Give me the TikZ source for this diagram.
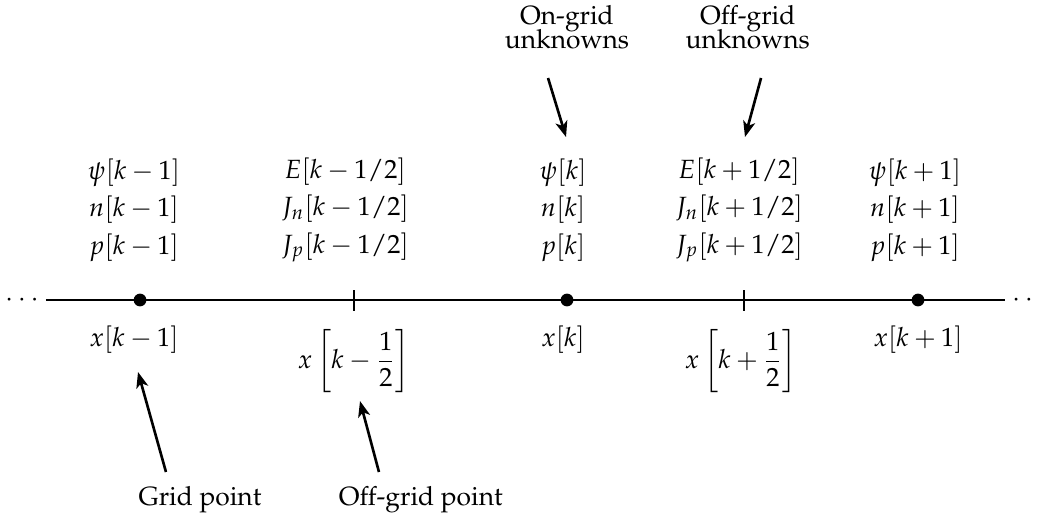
\documentclass[tikz,border=0pt]{standalone}
\usepackage[T1]{fontenc}
\usepackage{mathpazo}
\usetikzlibrary{positioning, arrows.meta}

\begin{document}
\begin{tikzpicture}[>={Stealth[length=6pt, width=4.6pt, inset=1.6pt]}, line width=1pt,
		gpt/.style={circle, fill, inner sep=0pt, minimum size=0.17cm},
		vals/.style={align=center},
		note/.style={align=center}]
			\useasboundingbox (0,0) rectangle (13.84,7);
			% axis with grid and off-grid points
			\coordinate (ax0) at (0.613,3);
			\coordinate (ax1) at (13.4,3);
			\draw (ax0) -- (ax1);
			\node (dotsl) at (0.293,3) {${\cdot}\hspace{1.7pt}{\cdot}\hspace{1.7pt}{\cdot}$};
			\node (dotsr) at (13.72,3) {${\cdot}\hspace{1.7pt}{\cdot}\hspace{1.7pt}{\cdot}$};
			\foreach \n/\x in {km/1.867, k/7.56, kp/12.24} {
					\node[gpt] (g\n) at (\x,3) {};
				}
			\foreach \n/\x in {km/4.72, kp/9.92} {
					\draw (\x,2.86) coordinate (h\n) -- (\x,3.14);
				}
			% unknowns stored at each point
			\node[vals] (vkm) at (1.787,4.2) {$\psi[k-1]$\\[2.2pt]$n[k-1]$\\[2.2pt]$p[k-1]$};
			\node[vals] (vhm) at (4.6,4.2) {$E[k-1/2]$\\[2.2pt]$J_n[k-1/2]$\\[2.2pt]$J_p[k-1/2]$};
			\node[vals] (vk) at (7.507,4.2) {$\psi[k]$\\[2.2pt]$n[k]$\\[2.2pt]$p[k]$};
			\node[vals] (vhp) at (9.853,4.2) {$E[k+1/2]$\\[2.2pt]$J_n[k+1/2]$\\[2.2pt]$J_p[k+1/2]$};
			\node[vals] (vkp) at (12.2,4.2) {$\psi[k+1]$\\[2.2pt]$n[k+1]$\\[2.2pt]$p[k+1]$};
			% positions
			\node (xkm) at (1.787,2.467) {$x[k-1]$};
			\node (xhm) at (4.72,2.18) {$x\left[k-{\displaystyle\frac{1}{2}}\right]$};
			\node (xk) at (7.507,2.467) {$x[k]$};
			\node (xhp) at (9.88,2.18) {$x\left[k+{\displaystyle\frac{1}{2}}\right]$};
			\node (xkp) at (12.24,2.467) {$x[k+1]$};
			% annotations
			\node[note] (ongrid) at (7.56,6.64) {On-grid\\[-3pt]unknowns};
			\node[note] (offgrid) at (9.97,6.64) {Off-grid\\[-3pt]unknowns};
			\node (gridpt) at (2.667,0.333) {Grid point};
			\node (offpt) at (5.61,0.333) {Off-grid point};
			\coordinate (a1) at (7.307,5.96);
			\coordinate (b1) at (7.547,5.173);
			\coordinate (a2) at (10.147,5.96);
			\coordinate (b2) at (9.933,5.173);
			\coordinate (a3) at (2.213,0.707);
			\coordinate (b3) at (1.84,2.04);
			\coordinate (a4) at (5.053,0.707);
			\coordinate (b4) at (4.8,1.653);
			\draw[->] (a1) -- (b1);
			\draw[->] (a2) -- (b2);
			\draw[->] (a3) -- (b3);
			\draw[->] (a4) -- (b4);
		\end{tikzpicture}
\end{document}
